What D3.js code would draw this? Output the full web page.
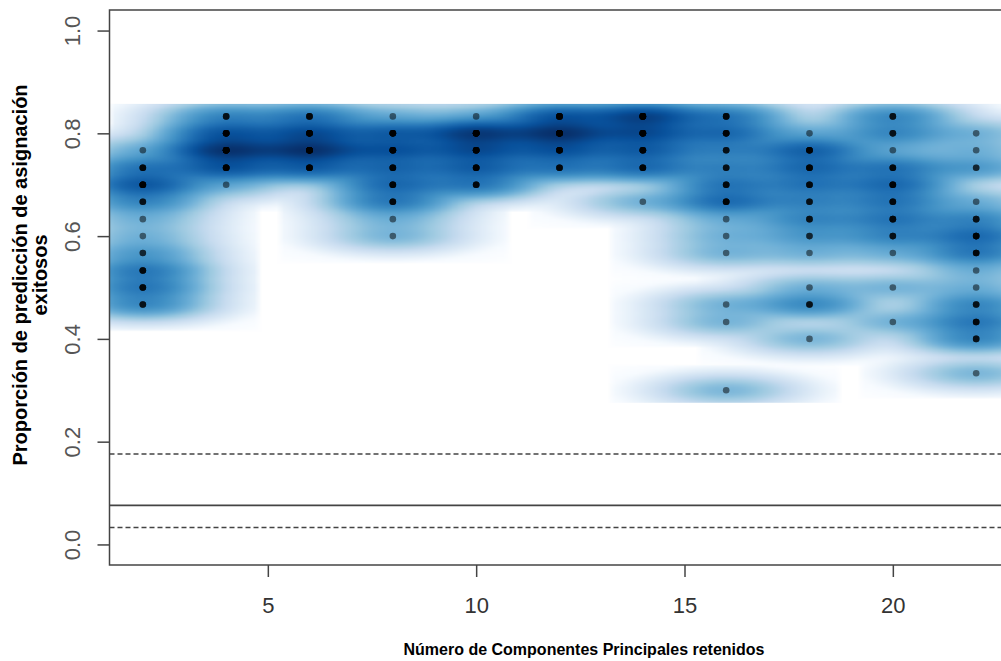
<!DOCTYPE html>
<html>
<head>
<meta charset="utf-8">
<script src="https://cdn.jsdelivr.net/npm/d3@7"></script>
<style>
  body { margin: 0; background: #fff; }
  svg { display: block; font-family: "Liberation Sans", Arial, sans-serif; }
</style>
</head>
<body>
<div id="chart"></div>
<script>
// number of PCs retained (x)
const nPca = [2, 4, 6, 8, 10, 12, 14, 16, 18, 20, 22]

// proportions of successful assignment seen at each nPca
const success = [
  [0.767, 0.733, 0.700, 0.667, 0.633, 0.600, 0.567, 0.533, 0.500, 0.467],
  [0.833, 0.800, 0.767, 0.733, 0.700],
  [0.833, 0.800, 0.767, 0.733],
  [0.833, 0.800, 0.767, 0.733, 0.700, 0.667, 0.633, 0.600],
  [0.833, 0.800, 0.767, 0.733, 0.700],
  [0.833, 0.800, 0.767, 0.733],
  [0.833, 0.800, 0.767, 0.733, 0.667],
  [0.833, 0.800, 0.767, 0.733, 0.700, 0.667, 0.633, 0.600, 0.567, 0.467, 0.433, 0.300],
  [0.800, 0.767, 0.733, 0.700, 0.667, 0.633, 0.600, 0.567, 0.500, 0.467, 0.400],
  [0.833, 0.800, 0.767, 0.733, 0.700, 0.667, 0.633, 0.600, 0.567, 0.500, 0.433],
  [0.800, 0.767, 0.733, 0.667, 0.633, 0.600, 0.567, 0.533, 0.500, 0.467, 0.433, 0.400, 0.333]
]

// how many of the 30 replicates gave each of those values
const reps = [
  [1, 4, 7, 3, 1, 1, 2, 4, 4, 3],
  [3, 7, 12, 7, 1],
  [4, 8, 12, 6],
  [1, 6, 7, 5, 5, 4, 1, 1],
  [1, 11, 8, 6, 4],
  [7, 12, 7, 4],
  [10, 8, 6, 5, 1],
  [4, 5, 3, 3, 4, 5, 1, 1, 1, 1, 1, 1],
  [1, 6, 5, 4, 3, 3, 2, 1, 1, 3, 1],
  [3, 3, 1, 4, 5, 4, 4, 3, 1, 1, 1],
  [1, 1, 2, 1, 3, 5, 4, 1, 1, 3, 4, 3, 1]
]

// random expectation: 2.5%, mean, 97.5%
const randomLines = [0.033, 0.076, 0.176]

const xTicks = [5, 10, 15, 20]
const yTicks = [0, 0.2, 0.4, 0.6, 0.8, 1.0]

const blues9 = ['#F7FBFF', '#DEEBF7', '#C6DBEF', '#9ECAE1', '#6BAED6',
                '#4292C6', '#2171B5', '#08519C', '#08306B']

const dms = {
  width: 1001,
  height: 661,
  margin: { top: 10, right: -8.5, bottom: 96, left: 109.5 }
}
dms.contentWidth = dms.width - dms.margin.left - dms.margin.right
dms.contentHeight = dms.height - dms.margin.top - dms.margin.bottom

// one point per replicate
const pts = []
nPca.forEach((n, i) => {
  success[i].forEach((s, j) => {
    for (let r = 0; r < reps[i][j]; r++) pts.push({ x: n, y: s })
  })
})

const xScale = d3.scaleLinear()
  .domain([1.2, 22.8])
  .range([0, dms.contentWidth])

const yScale = d3.scaleLinear()
  .domain([-0.04, 1.04])
  .range([dms.contentHeight, 0])

const svg = d3.select('#chart').append('svg')
  .attr('width', dms.width)
  .attr('height', dms.height)

svg.append('defs').append('clipPath')
  .attr('id', 'plot-clip')
  .append('rect')
  .attr('width', dms.contentWidth)
  .attr('height', dms.contentHeight)

const content = svg.append('g')
  .attr('transform', `translate(${dms.margin.left},${dms.margin.top})`)

const plotArea = content.append('g')
  .attr('clip-path', 'url(#plot-clip)')

// --- smoothScatter-like density ---
const q = (arr, p) => d3.quantile(arr.slice().sort(d3.ascending), p)
const xs = pts.map(d => d.x)
const ys = pts.map(d => d.y)
const bw = [
  (q(xs, 0.95) - q(xs, 0.05)) / 25,
  (q(ys, 0.95) - q(ys, 0.05)) / 25
]
const nbin = 128
const rx = [d3.min(xs) - 1.5 * bw[0], d3.max(xs) + 1.5 * bw[0]]
const ry = [d3.min(ys) - 1.5 * bw[1], d3.max(ys) + 1.5 * bw[1]]
const dx = (rx[1] - rx[0]) / (nbin - 1)
const dy = (ry[1] - ry[0]) / (nbin - 1)
const tau = 3.4

const dens = new Float64Array(nbin * nbin)
for (let gi = 0; gi < nbin; gi++) {
  const gx = rx[0] + gi * dx
  for (let gj = 0; gj < nbin; gj++) {
    const gy = ry[0] + gj * dy
    let s = 0
    for (const p of pts) {
      const ux = (gx - p.x) / bw[0]
      const uy = (gy - p.y) / bw[1]
      if (Math.abs(ux) > tau || Math.abs(uy) > tau) continue
      s += Math.exp(-0.5 * (ux * ux + uy * uy))
    }
    dens[gj * nbin + gi] = Math.pow(s, 0.25)
  }
}
const dMax = d3.max(dens)
const colRamp = d3.piecewise(d3.interpolateRgb, ['#FFFFFF', ...blues9])

const cnv = document.createElement('canvas')
cnv.width = nbin
cnv.height = nbin
const ctx = cnv.getContext('2d')
const img = ctx.createImageData(nbin, nbin)
for (let gj = 0; gj < nbin; gj++) {
  for (let gi = 0; gi < nbin; gi++) {
    const c = d3.rgb(colRamp(dens[gj * nbin + gi] / dMax))
    const k = ((nbin - 1 - gj) * nbin + gi) * 4
    img.data[k] = c.r
    img.data[k + 1] = c.g
    img.data[k + 2] = c.b
    img.data[k + 3] = 255
  }
}
ctx.putImageData(img, 0, 0)

plotArea.append('image')
  .attr('href', cnv.toDataURL())
  .attr('preserveAspectRatio', 'none')
  .attr('x', xScale(rx[0] - dx / 2))
  .attr('y', yScale(ry[1] + dy / 2))
  .attr('width', xScale(rx[1] + dx / 2) - xScale(rx[0] - dx / 2))
  .attr('height', yScale(ry[0] - dy / 2) - yScale(ry[1] + dy / 2))

// --- replicate points ---
plotArea.append('g')
  .selectAll('circle')
  .data(pts)
  .join('circle')
  .attr('cx', d => xScale(d.x))
  .attr('cy', d => yScale(d.y))
  .attr('r', 3.3)
  .style('fill', 'rgba(0,0,0,0.5)')

// --- random expectation lines ---
plotArea.append('g')
  .selectAll('line')
  .data(randomLines)
  .join('line')
  .attr('x1', 0)
  .attr('x2', dms.contentWidth)
  .attr('y1', d => yScale(d))
  .attr('y2', d => yScale(d))
  .style('stroke', '#444')
  .style('stroke-width', 1.6)
  .style('stroke-dasharray', (d, i) => i === 1 ? null : '5,3')

// frame
content.append('rect')
  .attr('width', dms.contentWidth)
  .attr('height', dms.contentHeight)
  .style('fill', 'none')
  .style('stroke', '#444')
  .style('stroke-width', 1.5)

// --- axes ---
const xAxis = content.append('g')
  .attr('transform', `translate(0,${dms.contentHeight})`)
  .call(d3.axisBottom(xScale).tickValues(xTicks).tickSize(12))
xAxis.select('.domain').remove()
xAxis.selectAll('line').style('stroke', '#444').style('stroke-width', 1.5)
xAxis.selectAll('text')
  .attr('y', 48)
  .attr('dy', 0)
  .style('font-size', '22px')
  .style('fill', '#333')

const yAxis = content.append('g')
  .call(d3.axisLeft(yScale).tickValues(yTicks).tickSize(12).tickFormat(d3.format('.1f')))
yAxis.select('.domain').remove()
yAxis.selectAll('line').style('stroke', '#444').style('stroke-width', 1.5)
yAxis.selectAll('text')
  .attr('x', 0)
  .attr('y', -30)
  .attr('dy', 0)
  .attr('transform', 'rotate(-90)')
  .attr('text-anchor', 'middle')
  .style('font-size', '22px')
  .style('fill', '#555')

// --- titles ---
svg.append('text')
  .attr('x', 584)
  .attr('y', 655)
  .attr('text-anchor', 'middle')
  .style('font-size', '16px')
  .style('font-weight', 'bold')
  .text('Número de Componentes Principales retenidos')

const yTitle = svg.append('g')
  .attr('transform', 'translate(0,275) rotate(-90)')
yTitle.append('text')
  .attr('y', 27)
  .attr('text-anchor', 'middle')
  .style('font-size', '20px')
  .style('font-weight', 'bold')
  .text('Proporción de predicción de asignación')
yTitle.append('text')
  .attr('y', 47)
  .attr('text-anchor', 'middle')
  .style('font-size', '20px')
  .style('font-weight', 'bold')
  .text('exitosos')
</script>
</body>
</html>
